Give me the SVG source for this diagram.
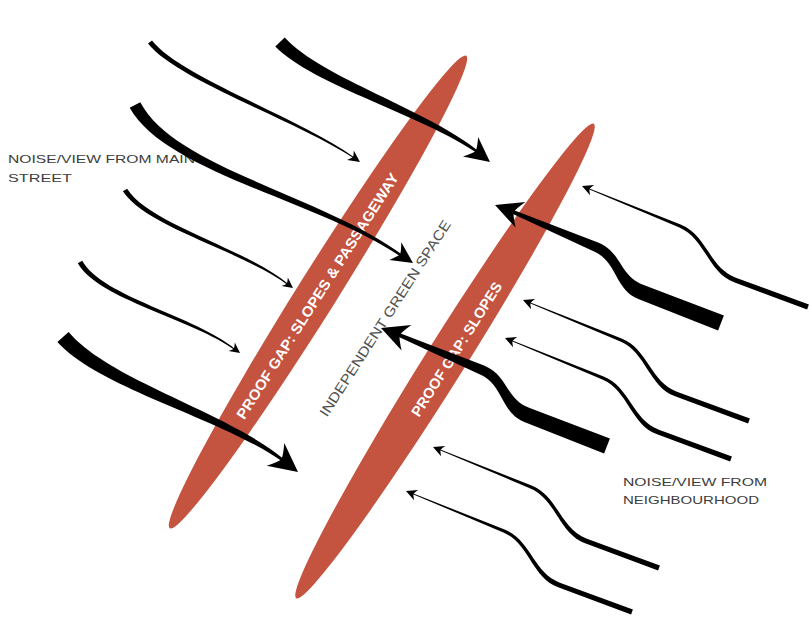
<svg xmlns="http://www.w3.org/2000/svg" xmlns:xlink="http://www.w3.org/1999/xlink" width="810" height="621" viewBox="0 0 810 621">
  <style>
    .band { fill: #c4533f; }
    .band-label { fill: #ffffff; font-family: "Liberation Sans", Arial, sans-serif; font-weight: bold; font-size: 14.5px; }
    .zone-label { fill: #505050; font-family: "Liberation Sans", Arial, sans-serif; font-size: 14px; }
    .note { fill: #3d3d3d; font-family: "Liberation Sans", Arial, sans-serif; font-size: 11.5px; }
    .flow { fill: #000000; }
  </style>
  <defs>
    <!-- arrowhead pointing along +x, tip at the origin -->
    <path id="hd" d="M0,0 L-26,-13 Q-20,-4 -19,0 Q-20,4 -26,13 Z"/>
    <!-- thin tapered flow entering from the neighbourhood side, tip at the origin -->
    <g id="flow-thin-r">
      <path d="M226.9,118.5 L153.9,91.7 C127.5,82.1 124.7,48.8 98.6,38.6 L5.5,1.7 L5.1,2.5 L97.4,41.4 C123.1,52.4 125.9,86.5 152.1,96.3 L225.1,123.5 Z"/>
      <use xlink:href="#hd" href="#hd" transform="rotate(202) scale(0.42)"/>
    </g>
    <!-- thick tapered flow entering from the neighbourhood side, tip at the origin -->
    <g id="flow-thick-r">
      <path d="M228.9,110.5 L148.7,80.0 C124.3,71.1 127.0,47.0 103.0,37.4 L17.7,4.8 L16.3,8.2 L99.1,46.6 C122.8,57.2 119.3,84.1 143.3,94.0 L223.1,125.5 Z"/>
      <use xlink:href="#hd" href="#hd" transform="rotate(201) scale(1.05)"/>
    </g>
  </defs>

  <rect width="810" height="621" fill="#ffffff"/>

  <!-- buffer band along the main street -->
  <g id="band-west">
    <ellipse class="band" cx="318" cy="292" rx="279" ry="20" transform="rotate(-57.9 318 292)"/>
    <text class="band-label" transform="translate(317.5,296) rotate(-57.5)" text-anchor="middle" dominant-baseline="central" textLength="288" lengthAdjust="spacingAndGlyphs">PROOF GAP: SLOPES &amp; PASSAGEWAY</text>
  </g>

  <!-- buffer band along the neighbourhood -->
  <g id="band-east">
    <ellipse class="band" cx="445" cy="361" rx="280" ry="20" transform="rotate(-57.9 445 361)"/>
    <text class="band-label" transform="translate(456.7,349.2) rotate(-57.5)" text-anchor="middle" dominant-baseline="central" textLength="156" lengthAdjust="spacingAndGlyphs">PROOF GAP: SLOPES</text>
  </g>

  <!-- space between the bands -->
  <g id="green-space">
    <text class="zone-label" transform="translate(385,318.3) rotate(-57.3)" text-anchor="middle" dominant-baseline="central" textLength="230" lengthAdjust="spacingAndGlyphs">INDEPENDENT GREEN SPACE</text>
  </g>

  <g id="label-main-street">
    <text class="note" x="8" y="163" textLength="187" lengthAdjust="spacingAndGlyphs">NOISE/VIEW FROM MAIN</text>
    <text class="note" x="8" y="182" textLength="64" lengthAdjust="spacingAndGlyphs">STREET</text>
  </g>

  <g id="label-neighbourhood">
    <text class="note" x="623" y="486" textLength="144" lengthAdjust="spacingAndGlyphs">NOISE/VIEW FROM</text>
    <text class="note" x="623" y="504" textLength="136" lengthAdjust="spacingAndGlyphs">NEIGHBOURHOOD</text>
  </g>

  <g id="connectors" class="flow">
    <!-- from the main street -->
    <path d="M148.0,43.5 C176.1,79.5 293.9,119.7 353.2,157.7 L353.8,156.9 C296.1,116.3 179.9,76.5 152.0,40.5 Z"/>
    <use href="#hd" xlink:href="#hd" transform="translate(360,162) rotate(35) scale(0.45)"/>

    <path d="M275.3,46.5 C314.0,85.8 422.8,114.9 478.3,154.0 L479.7,152.0 C427.2,109.1 322.0,78.2 284.7,37.5 Z"/>
    <use href="#hd" xlink:href="#hd" transform="translate(490,162) rotate(38) scale(0.95)"/>

    <path d="M129.7,107.8 C165.5,172.4 318.1,200.7 401.3,257.0 L402.7,255.0 C321.9,195.3 174.5,167.6 140.3,102.2 Z"/>
    <use href="#hd" xlink:href="#hd" transform="translate(413,263) rotate(34) scale(0.82)"/>

    <path d="M122.9,191.3 C146.0,227.3 243.7,251.6 287.7,284.9 L288.3,284.1 C246.3,248.4 150.0,224.7 127.1,188.7 Z"/>
    <use href="#hd" xlink:href="#hd" transform="translate(293,288) rotate(37) scale(0.4)"/>

    <path d="M77.8,263.2 C97.9,299.2 193.8,319.6 234.8,350.0 L235.4,349.2 C196.2,316.4 102.1,296.8 82.2,260.8 Z"/>
    <use href="#hd" xlink:href="#hd" transform="translate(240,353) rotate(37) scale(0.4)"/>

    <path d="M57.4,341.9 C100.2,389.2 222.5,418.2 283.1,462.1 L284.9,459.9 C227.5,411.8 109.8,380.8 68.6,332.1 Z"/>
    <use href="#hd" xlink:href="#hd" transform="translate(298,472) rotate(38) scale(1.1)"/>

    <!-- from the neighbourhood -->
    <use href="#flow-thin-r" xlink:href="#flow-thin-r" transform="translate(582,186)"/>
    <use href="#flow-thick-r" xlink:href="#flow-thick-r" transform="translate(495,205)"/>
    <use href="#flow-thin-r" xlink:href="#flow-thin-r" transform="translate(523,300)"/>
    <use href="#flow-thin-r" xlink:href="#flow-thin-r" transform="translate(505,338)"/>
    <use href="#flow-thick-r" xlink:href="#flow-thick-r" transform="translate(381,328)"/>
    <use href="#flow-thin-r" xlink:href="#flow-thin-r" transform="translate(433,447)"/>
    <use href="#flow-thin-r" xlink:href="#flow-thin-r" transform="translate(406,491)"/>
  </g>
</svg>
